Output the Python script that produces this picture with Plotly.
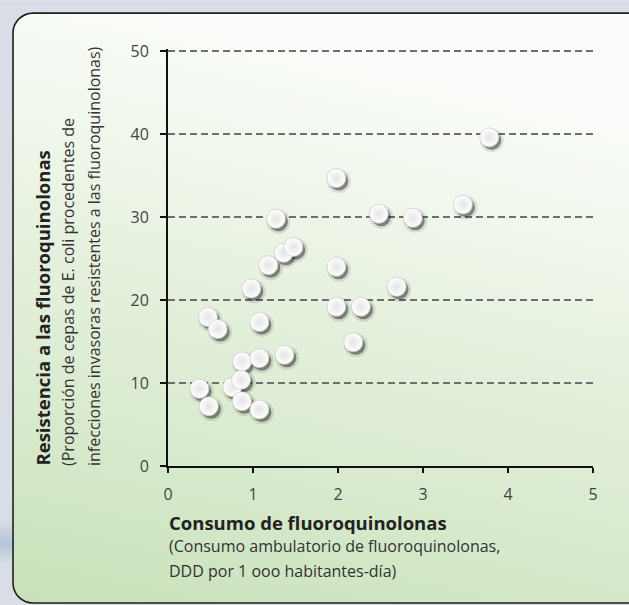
import base64
import plotly.graph_objects as go

# Data
consumo = [0.37, 0.48, 0.47, 0.585, 0.755, 0.86, 0.87, 0.87, 0.98, 1.075,
           1.075, 1.075, 1.18, 1.27, 1.36, 1.475, 1.37, 1.98, 1.98, 1.98,
           2.27, 2.18, 2.48, 2.69, 2.88, 3.47, 3.78]
resistencia = [9.3, 7.2, 17.95, 16.5, 9.5, 10.4, 12.6, 7.8, 21.4, 17.35,
               13.0, 6.8, 24.2, 29.8, 25.7, 26.4, 13.4, 34.7, 24.0, 19.2,
               19.2, 14.9, 30.4, 21.6, 29.9, 31.5, 39.6]
x_ticks = [0, 1, 2, 3, 4, 5]
y_ticks = [0, 10, 20, 30, 40, 50]

W, H = 629, 605
# pixel positions of the value 0/5 (x) and 0/50 (y)
X0, X5, Y0, Y50 = 168.0, 593.0, 466.0, 51.0
YMAX = 50.25  # small headroom so the 50 gridline is drawn
unit_y = (Y0 - Y50) / 50.0
L = X0
R = W - X5
B = H - Y0
T = Y50 - (YMAX - 50) * unit_y
pw = W - L - R
ph = H - T - B


def px(xp):
    return (xp - L) / pw


def py(yp):
    return (H - B - yp) / ph


FONT = "Open Sans, sans-serif"

svg = f'''<svg xmlns="http://www.w3.org/2000/svg" width="{W}" height="{H}" viewBox="0 0 {W} {H}">
<defs>
<linearGradient id="g" x1="0.25" y1="0" x2="0" y2="1">
<stop offset="0" stop-color="#fbfdfa"/>
<stop offset="0.45" stop-color="#e4f0dc"/>
<stop offset="1" stop-color="#c9e2ba"/>
</linearGradient>
<linearGradient id="b" x1="0" y1="0" x2="0" y2="1">
<stop offset="0" stop-color="#d9dee6"/>
<stop offset="0.5" stop-color="#b3c6da"/>
<stop offset="1" stop-color="#d9dee6"/>
</linearGradient>
</defs>
<rect x="0" y="0" width="{W}" height="{H}" fill="#d9dee6"/>
<rect x="0" y="520" width="14" height="45" fill="url(#b)"/>
<rect x="13" y="13" width="660" height="590" rx="20" ry="20" fill="url(#g)" stroke="#1e1e1e" stroke-width="1.6"/>
</svg>'''
src = "data:image/svg+xml;base64," + base64.b64encode(svg.encode()).decode()

dx_px, dy_px = 2.5, 3.0
dxv = dx_px * 5 / pw
dyv = dy_px * YMAX / ph

fig = go.Figure()
# base subplot trace (invisible, keeps the main axes alive)
fig.add_trace(go.Scatter(x=consumo, y=resistencia, mode="markers",
                         marker=dict(size=19, opacity=0),
                         hoverinfo="skip", showlegend=False))
# shadow layers (on an overlay axis shifted by a few pixels)
fig.add_trace(go.Scatter(x=consumo, y=resistencia, mode="markers", xaxis="x2", yaxis="y2",
                         marker=dict(size=24, color="rgba(0,0,0,0.10)", line=dict(width=0)),
                         hoverinfo="skip", showlegend=False))
fig.add_trace(go.Scatter(x=consumo, y=resistencia, mode="markers", xaxis="x2", yaxis="y2",
                         marker=dict(size=19, color="rgba(40,40,40,0.5)", line=dict(width=0)),
                         hoverinfo="skip", showlegend=False))
# white dots on top
fig.add_trace(go.Scatter(x=consumo, y=resistencia, mode="markers", xaxis="x3", yaxis="y3",
                         marker=dict(size=19, color="white",
                                     gradient=dict(type="radial", color="#e4e4e4"),
                                     line=dict(width=0.8, color="rgba(200,200,200,0.9)")),
                         showlegend=False))

tickfont = dict(family=FONT, size=16, color="#444")
fig.update_layout(
    width=W, height=H,
    margin=dict(l=L, r=R, t=T, b=B, pad=0),
    paper_bgcolor="rgba(0,0,0,0)", plot_bgcolor="rgba(0,0,0,0)",
    images=[dict(source=src, xref="paper", yref="paper", x=px(0), y=py(0),
                 sizex=W / pw, sizey=H / ph, xanchor="left", yanchor="top",
                 sizing="stretch", layer="below")],
    xaxis=dict(range=[0, 5], tickvals=x_ticks, ticktext=[str(v) for v in x_ticks],
               showgrid=False, zeroline=False, showline=True, linecolor="#111", linewidth=2,
               ticks="outside", ticklen=5, tickwidth=1.5, tickcolor="#111",
               ticklabelstandoff=8,
               tickfont=tickfont, fixedrange=True),
    yaxis=dict(range=[0, YMAX], tickvals=y_ticks, ticktext=[str(v) for v in y_ticks],
               showgrid=True, gridcolor="#6e6e6e", gridwidth=1.5, griddash="7px,4px",
               zeroline=False, showline=True, linecolor="#111", linewidth=2,
               ticks="outside", ticklen=6, tickwidth=1.5, tickcolor="#111",
               ticklabelstandoff=8,
               tickfont=tickfont, fixedrange=True),
    xaxis2=dict(range=[0 - dxv, 5 - dxv], overlaying="x", visible=False, fixedrange=True),
    yaxis2=dict(range=[0 + dyv, YMAX + dyv], overlaying="y", visible=False, fixedrange=True),
    xaxis3=dict(range=[0, 5], overlaying="x", visible=False, fixedrange=True),
    yaxis3=dict(range=[0, YMAX], overlaying="y", visible=False, fixedrange=True),
    annotations=[
        dict(text="<b>Consumo de fluoroquinolonas</b>", xref="paper", yref="paper",
             x=px(167), y=py(523), xanchor="left", yanchor="middle",
             showarrow=False, font=dict(family=FONT, size=18.5, color="#222")),
        dict(text="(Consumo ambulatorio de fluoroquinolonas,", xref="paper", yref="paper",
             x=px(167), y=py(546), xanchor="left", yanchor="middle",
             showarrow=False, font=dict(family=FONT, size=16, color="#333")),
        dict(text="DDD por 1 ooo habitantes-día)", xref="paper", yref="paper",
             x=px(167), y=py(571), xanchor="left", yanchor="middle",
             showarrow=False, font=dict(family=FONT, size=16, color="#333")),
        dict(text="<b>Resistencia a las fluoroquinolonas</b>", xref="paper", yref="paper",
             x=px(42), y=py(468), xanchor="center", yanchor="bottom",
             textangle=-90, showarrow=False, font=dict(family=FONT, size=18.5, color="#222")),
        dict(text="(Proporción de cepas de E. coli procedentes de", xref="paper", yref="paper",
             x=px(68), y=py(468), xanchor="center", yanchor="bottom",
             textangle=-90, showarrow=False, font=dict(family=FONT, size=16, color="#333")),
        dict(text="infecciones invasoras resistentes a las fluoroquinolonas)", xref="paper", yref="paper",
             x=px(94), y=py(468), xanchor="center", yanchor="bottom",
             textangle=-90, showarrow=False, font=dict(family=FONT, size=16, color="#333")),
    ],
)

fig.write_html("out.html", config={"displayModeBar": False, "staticPlot": True},
               post_script="document.body.style.margin='0';document.documentElement.style.margin='0';document.body.style.overflow='hidden';")
